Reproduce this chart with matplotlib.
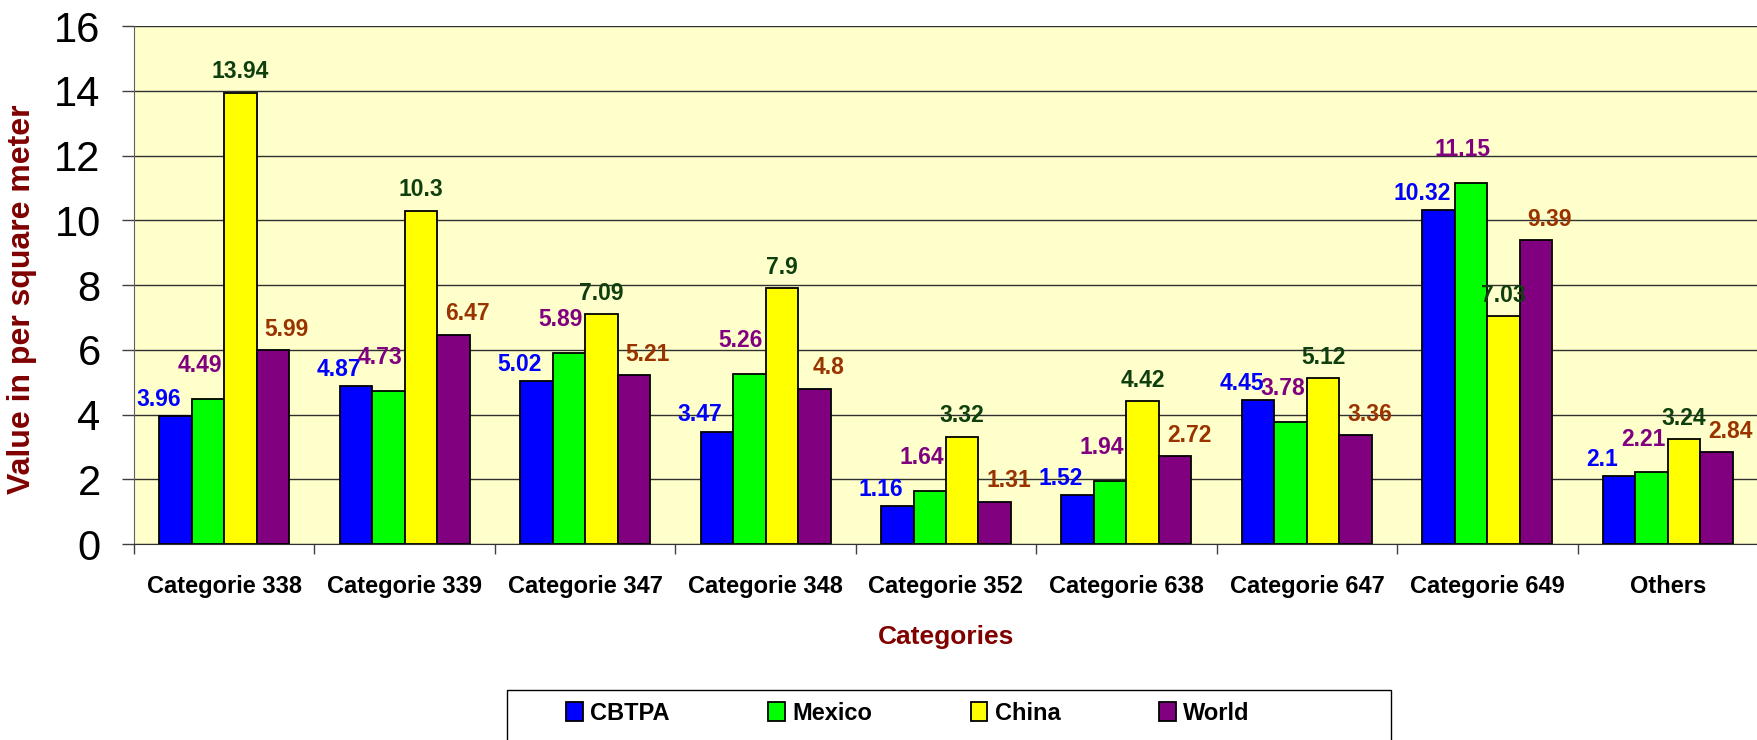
import numpy as np
import matplotlib.pyplot as plt
from matplotlib.patches import Rectangle

plt.rcParams['font.family'] = ['Liberation Sans', 'DejaVu Sans']

# data
categories = ['Categorie 338', 'Categorie 339', 'Categorie 347', 'Categorie 348',
              'Categorie 352', 'Categorie 638', 'Categorie 647', 'Categorie 649', 'Others']
cbtpa = [3.96, 4.87, 5.02, 3.47, 1.16, 1.52, 4.45, 10.32, 2.1]
mexico = [4.49, 4.73, 5.89, 5.26, 1.64, 1.94, 3.78, 11.15, 2.21]
china = [13.94, 10.3, 7.09, 7.9, 3.32, 4.42, 5.12, 7.03, 3.24]
world = [5.99, 6.47, 5.21, 4.8, 1.31, 2.72, 3.36, 9.39, 2.84]

series = [('CBTPA', cbtpa, '#0000FF', '#0000FF', (-12, 12)),
          ('Mexico', mexico, '#00FF00', '#800080', (-6, 24)),
          ('China', china, '#FFFF00', '#0F3F0F', (0, 15)),
          ('World', world, '#800080', '#993300', (10, 15))]

fig = plt.figure(figsize=(17.58, 7.40), dpi=100)
ax = fig.add_axes([134 / 1758, 1 - 544 / 740, 1 - 134 / 1758, 518 / 740])
ax.set_facecolor('#FFFFCC')

x = np.arange(len(categories))
w = 0.18
for i, (name, vals, col, lcol, off) in enumerate(series):
    pos = x + (i - 1.5) * w
    ax.bar(pos, vals, w, color=col, edgecolor='black', linewidth=1.3, label=name, zorder=3)
    for p, v in zip(pos, vals):
        ax.annotate(f'{v:g}', (p, v), xytext=off, textcoords='offset points',
                    ha='center', va='center', fontsize=16.5, fontweight='bold',
                    color=lcol, zorder=4)

ax.set_ylim(0, 16)
ax.set_xlim(-0.5, len(categories) - 0.5)
ax.set_yticks(range(0, 17, 2))
ax.yaxis.grid(True, color='#303030', linewidth=1)
ax.set_axisbelow(True)
ax.tick_params(axis='y', labelsize=30, length=9, width=1, pad=15, color='#404040')

ax.set_xticks(np.arange(-0.5, len(categories), 1))
ax.set_xticklabels([])
ax.tick_params(axis='x', which='major', length=7, width=1, color='#404040')
ax.set_xticks(x, minor=True)
ax.set_xticklabels(categories, minor=True, fontsize=17, fontweight='bold')
ax.tick_params(axis='x', which='minor', length=0, pad=22)

for s in ['top', 'right']:
    ax.spines[s].set_visible(False)
ax.spines['left'].set_color('#606060')
ax.spines['bottom'].set_color('#303030')

ax.set_ylabel('Value in per square meter', fontsize=23, fontweight='bold', color='#800000')
ax.yaxis.set_label_coords(-0.06, 0.472)
ax.set_xlabel('Categories', fontsize=19, fontweight='bold', color='#800000', labelpad=20)

# legend box runs off the bottom edge like in the original
fig.patches.append(Rectangle((507 / 1758, -0.05), (1391 - 507) / 1758, 0.05 + 50 / 740,
                             transform=fig.transFigure, facecolor='white',
                             edgecolor='black', linewidth=1))
leg = fig.legend(loc='center left', bbox_to_anchor=(566 / 1758, 1 - 713 / 740), ncol=4,
                 fontsize=17, frameon=False,
                 handlelength=0.7, handleheight=0.9, handletextpad=0.3,
                 columnspacing=4.2, borderpad=0, borderaxespad=0)
for t in leg.get_texts():
    t.set_fontweight('bold')

plt.savefig('out.png', dpi=100)
